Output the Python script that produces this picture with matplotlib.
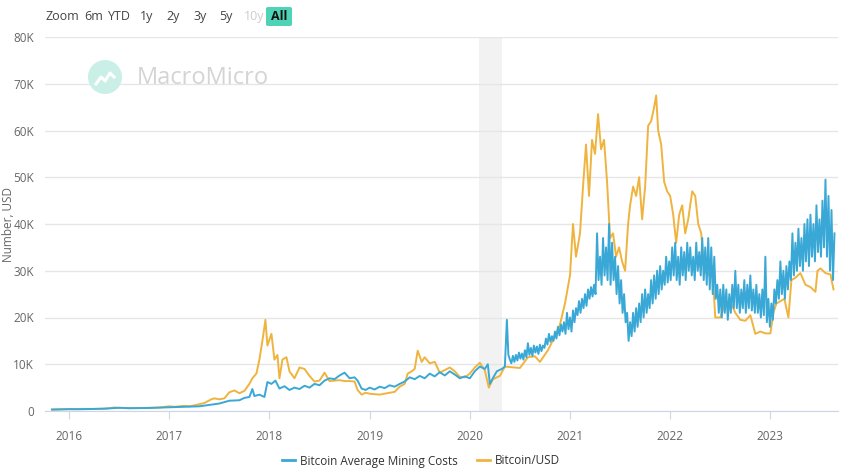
import matplotlib
matplotlib.use("Agg")
import matplotlib.pyplot as plt
import numpy as np
from matplotlib.patches import Circle, FancyBboxPatch
from matplotlib.lines import Line2D

plt.rcParams['font.family'] = ['Open Sans', 'DejaVu Sans']

# ---------------- data (decimal years, USD) ----------------
# Mining cost, 2015-11 .. 2020-05 (read at irregular dates)
mining_dates_early = [
    2015.83, 2016.0, 2016.2, 2016.4, 2016.5, 2016.6, 2016.8, 2017.0, 2017.15, 2017.3,
    2017.4, 2017.5, 2017.6, 2017.7, 2017.75, 2017.8, 2017.83, 2017.85, 2017.9, 2017.95,
    2017.98, 2018.02, 2018.06, 2018.1, 2018.15, 2018.2, 2018.25, 2018.3, 2018.35, 2018.4,
    2018.45, 2018.5, 2018.55, 2018.6, 2018.65, 2018.7, 2018.75, 2018.8, 2018.85, 2018.88,
    2018.92, 2018.96, 2019.0, 2019.05, 2019.1, 2019.15, 2019.2, 2019.25, 2019.3, 2019.35,
    2019.4, 2019.45, 2019.5, 2019.55, 2019.6, 2019.65, 2019.7, 2019.75, 2019.8, 2019.85,
    2019.9, 2019.95, 2020.0, 2020.05, 2020.1, 2020.15, 2020.18, 2020.2, 2020.23, 2020.27,
    2020.32, 2020.35, 2020.37, 2020.385,
]
mining_costs_early = [
    300, 380, 420, 550, 700, 600, 650, 800, 900, 1000,
    1300, 1600, 2200, 2300, 2800, 3000, 4700, 3200, 3500, 3000,
    6200, 5800, 6500, 4800, 5300, 4500, 5000, 4700, 5400, 5000,
    5800, 5500, 6500, 7000, 6800, 7600, 8200, 7000, 7200, 6500,
    4800, 4500, 5000, 4600, 5200, 4900, 5500, 5200, 5800, 6300,
    7200, 6800, 7500, 7000, 8000, 7400, 8300, 7600, 8500, 7800,
    7000, 7400, 7000, 8500, 9500, 9000, 10000, 5800, 7000, 8500,
    9000, 9500, 19500, 12000,
]
# Mining cost, 2020-05 .. 2023-08, read about every 5-6 days
mining_dense_start = 2020.40
mining_dense_step = 0.015
mining_costs_dense = [
    11000, 10200, 11800, 10500, 12000, 10800, 12500, 11200, 12300, 11000,
    13000, 11500, 14500, 12000, 13500, 11800, 14000, 12500, 13800, 12200,
    14200, 12800, 14000, 13500, 15500, 14200, 16500, 14800, 16000, 15000,
    17000, 15500, 18000, 16200, 18500, 17000, 19000, 16500, 21000, 17500,
    20000, 17000, 21500, 19000, 22000, 20500, 23500, 21000, 24000, 22000,
    25000, 22500, 26000, 24000, 26500, 24500, 27000, 25000, 38000, 28000,
    33000, 27000, 37000, 29000, 35000, 28000, 40000, 27000, 36000, 28000,
    33000, 25000, 31000, 23000, 28000, 21000, 25000, 19000, 21000, 15000,
    19000, 16000, 21000, 17000, 22000, 18000, 23000, 19000, 25000, 20000,
    26000, 21000, 25000, 22000, 28000, 23000, 29000, 24000, 30000, 25000,
    31000, 26000, 30000, 27000, 33000, 27500, 32000, 28000, 35000, 29000,
    36000, 28000, 33000, 27000, 35000, 29000, 34000, 28000, 36000, 30000,
    35000, 29000, 33000, 28000, 36000, 30000, 34000, 29000, 37000, 28000,
    35000, 27000, 37000, 26000, 35000, 25000, 33000, 24000, 27000, 21000,
    26000, 20000, 27000, 21000, 26000, 19500, 25000, 21000, 27000, 22000,
    30000, 22000, 27000, 21000, 26000, 22000, 28000, 21000, 27000, 22000,
    29000, 21500, 26000, 21000, 27000, 21000, 25000, 20000, 26000, 20500,
    33000, 19000, 24000, 18000, 23000, 19500, 26000, 23000, 28000, 24000,
    32000, 25000, 30000, 24000, 31000, 26000, 32000, 28000, 38000, 29000,
    36000, 30000, 39000, 31000, 37000, 30000, 40000, 32000, 41000, 31000,
    42000, 33000, 40000, 32000, 44000, 34000, 41000, 33000, 45000, 35000,
    49500, 33000, 46000, 30000, 43000, 28000, 38000,
]

price_dates = [
    2015.83, 2016.0, 2016.1, 2016.2, 2016.35, 2016.45, 2016.5, 2016.6, 2016.75, 2016.9,
    2017.0, 2017.05, 2017.15, 2017.2, 2017.25, 2017.35, 2017.42, 2017.45, 2017.5, 2017.55,
    2017.6, 2017.65, 2017.7, 2017.75, 2017.8, 2017.83, 2017.87, 2017.9, 2017.93, 2017.96,
    2017.98, 2018.02, 2018.05, 2018.08, 2018.1, 2018.13, 2018.17, 2018.2, 2018.25, 2018.3,
    2018.35, 2018.4, 2018.45, 2018.5, 2018.55, 2018.6, 2018.65, 2018.7, 2018.75, 2018.8,
    2018.85, 2018.88, 2018.92, 2018.96, 2019.0, 2019.1, 2019.2, 2019.25, 2019.3, 2019.35,
    2019.38, 2019.42, 2019.45, 2019.48, 2019.52, 2019.55, 2019.6, 2019.65, 2019.7, 2019.8,
    2019.85, 2019.9, 2019.95, 2020.0, 2020.05, 2020.1, 2020.15, 2020.19, 2020.23, 2020.3,
    2020.35, 2020.45, 2020.5, 2020.58, 2020.65, 2020.7, 2020.78, 2020.85, 2020.9, 2020.95,
    2021.0, 2021.03, 2021.06, 2021.1, 2021.13, 2021.16, 2021.19, 2021.22, 2021.25, 2021.28,
    2021.31, 2021.34, 2021.37, 2021.4, 2021.43, 2021.46, 2021.49, 2021.52, 2021.55, 2021.58,
    2021.6, 2021.63, 2021.66, 2021.69, 2021.72, 2021.75, 2021.78, 2021.81, 2021.84, 2021.86,
    2021.88, 2021.91, 2021.94, 2021.97, 2022.0, 2022.03, 2022.06, 2022.09, 2022.12, 2022.15,
    2022.18, 2022.22, 2022.25, 2022.28, 2022.31, 2022.34, 2022.38, 2022.42, 2022.45, 2022.5,
    2022.55, 2022.6, 2022.65, 2022.7, 2022.75, 2022.8, 2022.85, 2022.9, 2022.95, 2023.0,
    2023.03, 2023.06, 2023.1, 2023.14, 2023.18, 2023.21, 2023.25, 2023.3, 2023.35, 2023.4,
    2023.45, 2023.47, 2023.5, 2023.55, 2023.6, 2023.63,
]
price_values = [
    330, 430, 380, 420, 450, 750, 650, 600, 640, 750,
    1000, 900, 1100, 1000, 1200, 1700, 2500, 2700, 2500, 2700,
    4000, 4400, 3800, 4300, 5800, 7000, 8000, 11000, 15000, 19500,
    14000, 16500, 11000, 12000, 7000, 11000, 11500, 8500, 7000, 9300,
    9000, 7500, 6300, 6500, 8200, 6400, 6500, 6600, 6400, 6400,
    6300, 4500, 3500, 3900, 3700, 3500, 3900, 4100, 5200, 5800,
    8000, 8500, 9000, 12900, 10500, 11500, 10200, 10500, 8200, 9300,
    8500, 7300, 7200, 8000, 9300, 10300, 8700, 5000, 6800, 7500,
    9500, 9300, 9200, 11500, 11700, 10500, 13000, 16000, 18500, 23000,
    29000, 40000, 33000, 38000, 48000, 57000, 46000, 58000, 55000, 63500,
    56000, 58000, 49000, 37000, 38000, 33000, 35000, 32000, 30000, 40000,
    44000, 48000, 46000, 50000, 41000, 48000, 61000, 62000, 65000, 67500,
    60000, 57000, 49000, 47000, 46000, 42000, 36000, 42000, 44000, 38000,
    41000, 47000, 46000, 40000, 38000, 30000, 29000, 31000, 20000, 20000,
    23000, 23500, 21000, 19500, 19300, 20500, 16500, 17000, 16600, 16600,
    21000, 23000, 23500, 24000, 20000, 28000, 28500, 29500, 27000, 26500,
    25500, 30000, 30500, 29500, 29200, 26000,
]

year_ticks = [2016, 2017, 2018, 2019, 2020, 2021, 2022, 2023]
y_ticks = [0, 10000, 20000, 30000, 40000, 50000, 60000, 70000, 80000]
y_tick_labels = ["0", "10K", "20K", "30K", "40K", "50K", "60K", "70K", "80K"]
recession = (2020.09, 2020.32)
range_buttons = ["Zoom", "6m", "YTD", "1y", "2y", "3y", "5y", "10y", "All"]
series_names = ["Bitcoin Average Mining Costs", "Bitcoin/USD"]

mining_dates = mining_dates_early + list(
    np.round(mining_dense_start + mining_dense_step * np.arange(len(mining_costs_dense)), 3))
mining_costs = mining_costs_early + mining_costs_dense

BLUE = "#3aa8d6"
GOLD = "#efb43f"
TXT = "#666666"

# ---------------- figure ----------------
W, H = 842, 472
fig = plt.figure(figsize=(W / 100, H / 100), dpi=100)
ax = fig.add_axes([45 / W, 1 - 411 / H, (838 - 45) / W, (411 - 37) / H])

ax.axvspan(recession[0], recession[1], color="#f2f2f2", zorder=0, lw=0)
ax.plot(mining_dates, mining_costs, color=BLUE, lw=1.4, zorder=3)
ax.plot(price_dates, price_values, color=GOLD, lw=1.4, zorder=2)

ax.set_xlim(2015.76, 2023.675)
ax.set_ylim(0, 80000)
ax.set_yticks(y_ticks)
ax.set_yticklabels(y_tick_labels)
ax.set_xticks(year_ticks)
ax.set_xticklabels([str(y) for y in year_ticks])
ax.grid(axis="y", color="#e6e6e6", lw=1)
ax.set_axisbelow(True)
for s in ["top", "right", "left"]:
    ax.spines[s].set_visible(False)
ax.spines["bottom"].set_color("#ccd6eb")
ax.tick_params(axis="y", length=0, labelsize=8.5, labelcolor=TXT, pad=8)
ax.tick_params(axis="x", length=6, color="#ccd6eb", labelsize=8.5, labelcolor=TXT, pad=8)
ax.set_ylabel("Number, USD", fontsize=8.5, color=TXT)
ax.yaxis.set_label_coords(-(45 - 15) / (838 - 45), 0.5)

# range selector buttons
bx = [45, 84, 108, 140, 166, 193, 219, 244, 266]
for lab, x in zip(range_buttons, bx):
    if lab == "All":
        fig.patches.append(FancyBboxPatch((x / W, 1 - 26 / H), 26 / W, 19 / H,
                                          boxstyle="round,pad=0,rounding_size=0.003",
                                          transform=fig.transFigure, fc="#4fd3b7", ec="none"))
        fig.text((x + 13) / W, 1 - 16.5 / H, lab, ha="center", va="center",
                 fontsize=9, color="#111111", fontweight="bold")
    else:
        col = "#cccccc" if lab == "10y" else "#444444"
        fig.text(x / W, 1 - 16.5 / H, lab, ha="left", va="center", fontsize=9, color=col)

# watermark
circ = Circle((105 / 100, (H - 77) / 100), 17 / 100, transform=fig.dpi_scale_trans,
              fc="#c9efe6", ec="none")
fig.patches.append(circ)
icon_x = [96, 101, 105, 110, 114]
icon_y = [84, 77, 81, 73, 77]
fig.lines.append(Line2D([v / W for v in icon_x], [1 - v / H for v in icon_y],
                        transform=fig.transFigure, color="white", lw=2.2))
fig.text(137 / W, 1 - 78 / H, "MacroMicro", fontsize=17, color="#d4d4d4",
         ha="left", va="center")

# legend
leg_handles = [Line2D([], [], color=BLUE, lw=2), Line2D([], [], color=GOLD, lw=2)]
fig.legend(leg_handles, series_names,
           loc="center", bbox_to_anchor=(0.5, 1 - 461 / H), ncol=2, frameon=False,
           fontsize=8.5, handlelength=1.1, handletextpad=0.4, columnspacing=1.6,
           labelcolor="#333333")

fig.savefig("out.png", dpi=100)
